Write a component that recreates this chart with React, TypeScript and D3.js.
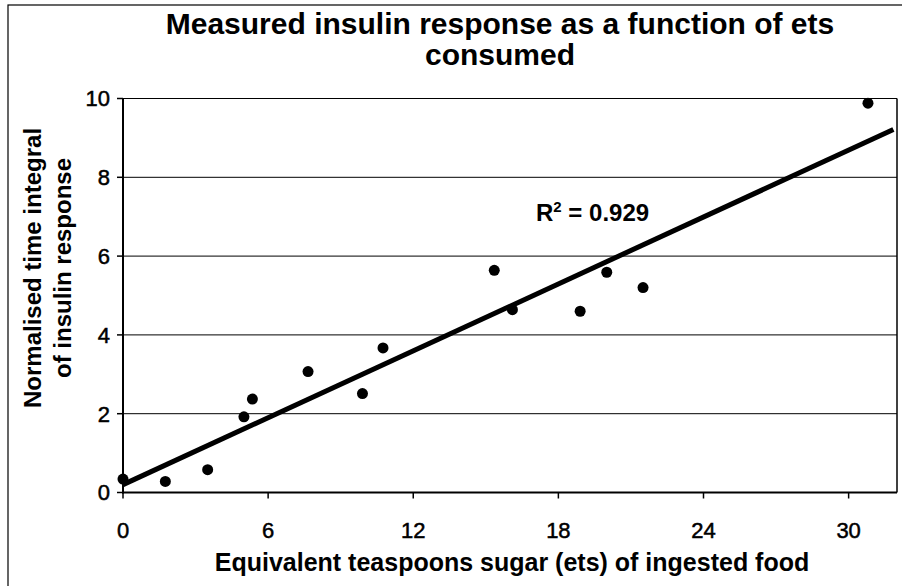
import React from "react";
import * as d3 from "d3";

// ets consumed vs normalised insulin response
const etsValues = [0, 1.75, 3.5, 5.0, 5.35, 7.65, 9.9, 10.75, 15.35, 16.1, 18.9, 20.0, 21.5, 30.8];
const insulinValues = [0.34, 0.28, 0.58, 1.92, 2.37, 3.07, 2.51, 3.67, 5.64, 4.64, 4.6, 5.59, 5.2, 9.88];

const xTicks = [0, 6, 12, 18, 24, 30];
const yTicks = [0, 2, 4, 6, 8, 10];

// linear trendline as drawn in the chart
const trendIntercept = 0.2;
const trendSlope = 0.283;
const trendRange = [0, 31.85];
const rSquared = "0.929";

const titleLines = ["Measured insulin response as a function of ets", "consumed"];
const yTitleLines = ["Normalised time integral", "of insulin response"];
const xTitle = "Equivalent teaspoons sugar (ets) of ingested food";

const W = 902;
const H = 586;
const plot = { left: 123, top: 98.5, right: 897, bottom: 492.5 };
const FONT = "'Liberation Sans', Arial, sans-serif";

const App: React.FC = () => {
  const x = d3.scaleLinear().domain([0, 32]).range([plot.left, plot.right]);
  const y = d3.scaleLinear().domain([0, 10]).range([plot.bottom, plot.top]);

  const points = etsValues.map((v, i) => [v, insulinValues[i]] as [number, number]);
  const trend = trendRange.map(v => [v, trendIntercept + trendSlope * v] as [number, number]);
  const trendPath = d3.line<[number, number]>().x(d => x(d[0])).y(d => y(d[1]))(trend) || "";

  return (
    <svg width={W} height={H} style={{ position: "absolute", left: 0, top: 0, background: "#fff" }} fontFamily={FONT}>
      {/* outer chart border */}
      <rect x={8} y={5} width={W + 10} height={H + 10} fill="none" stroke="#000" strokeWidth={1.2} />

      {/* title */}
      {titleLines.map((t, i) => (
        <text key={t} x={500} y={34 + i * 31} textAnchor="middle" fontSize={30} fontWeight="bold" fill="#000">{t}</text>
      ))}

      {/* gridlines */}
      {yTicks.filter(t => t > 0).map(t => (
        <line key={t} x1={plot.left} x2={plot.right} y1={y(t)} y2={y(t)} stroke="#000" strokeWidth={1} />
      ))}
      {/* plot frame right */}
      <line x1={plot.right} x2={plot.right} y1={plot.top} y2={plot.bottom} stroke="#000" strokeWidth={1.5} />

      {/* axes */}
      <line x1={plot.left} x2={plot.left} y1={plot.top} y2={plot.bottom + 1} stroke="#000" strokeWidth={2} />
      <line x1={plot.left - 1} x2={plot.right} y1={plot.bottom} y2={plot.bottom} stroke="#000" strokeWidth={2} />
      {yTicks.map(t => (
        <g key={t}>
          <line x1={plot.left - 6} x2={plot.left} y1={y(t)} y2={y(t)} stroke="#000" strokeWidth={1.5} />
          <text x={110} y={y(t)} dy="0.36em" textAnchor="end" fontSize={22} fill="#000" stroke="#000" strokeWidth={0.5}>{t}</text>
        </g>
      ))}
      {xTicks.map(t => (
        <g key={t}>
          <line x1={x(t)} x2={x(t)} y1={plot.bottom} y2={plot.bottom + 6} stroke="#000" strokeWidth={1.5} />
          <text x={x(t)} y={538} textAnchor="middle" fontSize={22} fill="#000" stroke="#000" strokeWidth={0.5}>{t}</text>
        </g>
      ))}

      {/* axis titles */}
      <text x={512} y={571} textAnchor="middle" fontSize={25} fontWeight="bold" fill="#000">{xTitle}</text>
      {yTitleLines.map((t, i) => (
        <text key={t} transform={`translate(${41 + i * 30},${268}) rotate(-90)`} textAnchor="middle" fontSize={24} fontWeight="bold" fill="#000">{t}</text>
      ))}

      {/* trendline */}
      <path d={trendPath} fill="none" stroke="#000" strokeWidth={5} />

      {/* data points */}
      {points.map((p, i) => (
        <circle key={i} cx={x(p[0])} cy={y(p[1])} r={5.5} fill="#000" />
      ))}

      {/* R squared label */}
      <text x={536} y={221} fontSize={24} fontWeight="bold" fill="#000">
        R<tspan dy={-9} fontSize={15}>2</tspan><tspan dy={9}> = {rSquared}</tspan>
      </text>
    </svg>
  );
};

export default App;
